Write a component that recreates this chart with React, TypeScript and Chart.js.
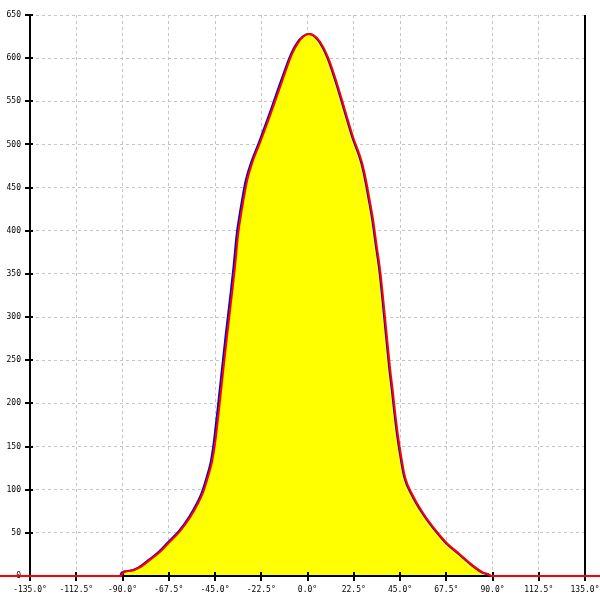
import React, { useEffect, useRef } from "react";
import { Chart, registerables } from "chart.js";

Chart.register(...registerables);

// Angular distribution, degrees -> counts (red trace, filled)
const redAngles = [
  -150, -90.6, -89.8, -86, -81.5, -76.5, -71.7, -66.9, -62, -57.1, -53.3, -50.8,
  -48.4, -46.4, -45, -44, -43, -41.6, -39.2, -36.7, -35.3, -33.8, -32.6,
  -31.2, -29.4, -27, -23.1, -20, -16.8, -12.4, -7.5, -4.5, -2, 0.5, 2.7, 6.1,
  10, 14.3, 18.2, 22.1, 26.5, 28.5, 30.5, 31.9, 33.5, 35.3, 37.7, 40.1, 41.6,
  42.6, 44, 45, 47.4, 51.3, 56.2, 63, 67.8, 74.2, 80.5, 85.4, 88, 89.5, 150,
];
const redCounts = [
  0, 0, 4, 6, 10, 19, 28, 40, 52, 68, 84, 97,
  115, 133, 153, 173, 194, 225, 277, 328, 358, 395, 415,
  435, 458, 478, 502, 522, 543, 573, 605, 618, 625, 628, 627, 619,
  601, 571, 540, 509, 479, 458, 432, 413, 385, 355, 300, 242, 212,
  190, 163, 147, 115, 93, 73, 51, 38, 25, 12, 4, 2, 0, 0,
];

// Second trace (blue), slightly shifted
const blueAngles = [
  -150, -91.2, -90.4, -86.6, -82.1, -77.1, -72.3, -67.5, -62.6, -57.7, -53.9, -51.4,
  -49.0, -47.0, -45.7, -44.7, -43.7, -42.3, -39.9, -37.4, -36.0, -34.5, -33.3,
  -31.9, -30.1, -27.6, -23.7, -20.6, -17.4, -13.0, -8.0, -5.0, -2.3, 0.3, 2.4, 5.7,
  9.6, 13.9, 17.8, 21.7, 26.1, 28.1, 30.1, 31.5, 33.1, 34.9, 37.3, 39.7, 41.2,
  42.2, 43.6, 44.6, 47.0, 50.9, 55.8, 62.6, 67.4, 73.8, 80.1, 85.0, 87.6, 89.1, 150,
];
const blueCounts = [
  0, 0, 4, 6, 10, 19, 28, 40, 52, 68, 84, 97,
  115, 133, 153, 173, 194, 225, 277, 328, 358, 395, 415,
  435, 458, 478, 502, 522, 543, 573, 605, 618, 625, 628, 627, 619,
  601, 571, 540, 509, 479, 458, 432, 413, 385, 355, 300, 242, 212,
  190, 163, 147, 115, 93, 73, 51, 38, 25, 12, 4, 2, 0, 0,
];

const xTickValues = [-135, -112.5, -90, -67.5, -45, -22.5, 0, 22.5, 45, 67.5, 90, 112.5, 135];
const yTickValues = [0, 50, 100, 150, 200, 250, 300, 350, 400, 450, 500, 550, 600, 650];

const tickFont = { family: "'DejaVu Sans Mono', monospace", size: 8 };

const axisDecor = {
  id: "axisDecor",
  beforeDatasetsDraw(chart: any) {
    const { ctx, chartArea: a, scales } = chart;
    const x = scales.x;
    const y = scales.y;
    ctx.save();
    ctx.strokeStyle = "#000";
    ctx.lineWidth = 2;
    ctx.beginPath();
    const l = Math.round(a.left);
    const r = Math.round(a.right);
    const b = Math.round(a.bottom);
    ctx.moveTo(l, Math.round(a.top));
    ctx.lineTo(l, b + 4);
    ctx.moveTo(r, Math.round(a.top));
    ctx.lineTo(r, b + 4);
    ctx.moveTo(l, b);
    ctx.lineTo(r, b);
    for (const v of yTickValues) {
      const py = Math.round(y.getPixelForValue(v));
      ctx.moveTo(l - 5, py);
      ctx.lineTo(l + 3, py);
    }
    for (const v of xTickValues) {
      const px = Math.round(x.getPixelForValue(v));
      ctx.moveTo(px, b - 4);
      ctx.lineTo(px, b + 5);
    }
    ctx.stroke();
    ctx.restore();
  },
};

export default function App() {
  const ref = useRef<HTMLCanvasElement | null>(null);

  useEffect(() => {
    if (!ref.current) return;
    const chart = new Chart(ref.current, {
      type: "line",
      data: {
        datasets: [
          {
            label: "red",
            data: redAngles.map((a, i) => ({ x: a, y: redCounts[i] })),
            borderColor: "#ff0000",
            borderWidth: 2,
            backgroundColor: "#ffff00",
            fill: "origin",
            pointRadius: 0,
            cubicInterpolationMode: "monotone",
            clip: false as any,
          },
          {
            label: "blue",
            data: blueAngles.map((a, i) => ({ x: a, y: blueCounts[i] })),
            borderColor: "#0000dd",
            borderWidth: 2,
            fill: false,
            pointRadius: 0,
            cubicInterpolationMode: "monotone",
            clip: false as any,
          },
        ],
      },
      options: {
        animation: false,
        responsive: false,
        maintainAspectRatio: false,
        layout: { padding: { top: 15, right: 15, left: 0, bottom: 0 } },
        plugins: {
          legend: { display: false },
          tooltip: { enabled: false },
          filler: { drawTime: "beforeDatasetsDraw" } as any,
        },
        scales: {
          x: {
            type: "linear",
            min: -135,
            max: 135,
            afterBuildTicks: (s: any) => {
              s.ticks = xTickValues.map((value) => ({ value }));
            },
            afterFit: (s: any) => {
              s.height = 24;
              s.paddingRight = 15;
              s.paddingLeft = 0;
            },
            ticks: {
              font: tickFont,
              color: "#000",
              maxRotation: 0,
              minRotation: 0,
              autoSkip: false,
              padding: 9,
              callback: (v: any) => Number(v).toFixed(1) + "°",
            },
            grid: { color: "#c4c4c4", drawTicks: false, lineWidth: 1 },
            border: { display: false, dash: [3, 3] },
          },
          y: {
            type: "linear",
            min: 0,
            max: 650,
            afterBuildTicks: (s: any) => {
              s.ticks = yTickValues.map((value) => ({ value }));
            },
            afterFit: (s: any) => {
              s.width = 30;
            },
            ticks: {
              font: tickFont,
              color: "#000",
              autoSkip: false,
              padding: 9,
              callback: (v: any) => String(v),
            },
            grid: { color: "#c4c4c4", drawTicks: false, lineWidth: 1 },
            border: { display: false, dash: [3, 3] },
          },
        },
      },
      plugins: [axisDecor],
    });
    return () => chart.destroy();
  }, []);

  return (
    <div style={{ position: "absolute", left: 0, top: 0, width: 600, height: 600, background: "#fff" }}>
      <canvas ref={ref} width={600} height={600} style={{ width: 600, height: 600 }} />
    </div>
  );
}
